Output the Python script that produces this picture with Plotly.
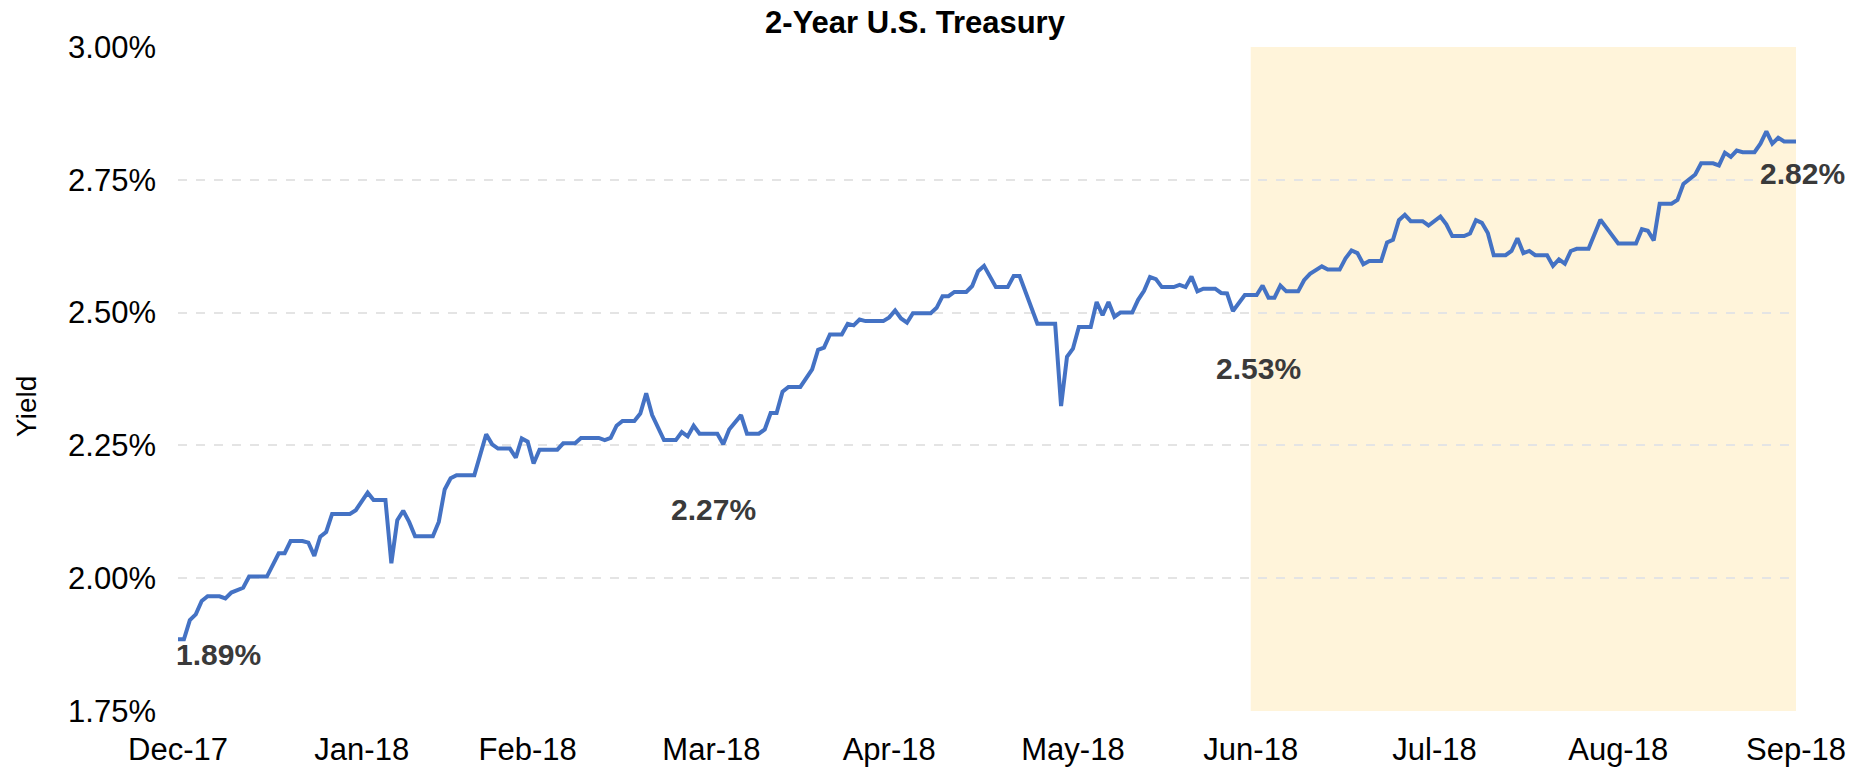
import plotly.graph_objects as go

# ---- data (daily 2-year Treasury yield, %, vertices of the line) ----
DATES = [
    "2017-12-31", "2018-01-01", "2018-01-02", "2018-01-03", "2018-01-04", "2018-01-05", "2018-01-07",
    "2018-01-08", "2018-01-09", "2018-01-11", "2018-01-12", "2018-01-15", "2018-01-17", "2018-01-18",
    "2018-01-19", "2018-01-21", "2018-01-22", "2018-01-23", "2018-01-24", "2018-01-25", "2018-01-26",
    "2018-01-29", "2018-01-30", "2018-02-01", "2018-02-02", "2018-02-04", "2018-02-05", "2018-02-06",
    "2018-02-07", "2018-02-08", "2018-02-09", "2018-02-12", "2018-02-13", "2018-02-14", "2018-02-15",
    "2018-02-16", "2018-02-19", "2018-02-21", "2018-02-22", "2018-02-23", "2018-02-25", "2018-02-26",
    "2018-02-27", "2018-02-28", "2018-03-01", "2018-03-02", "2018-03-05", "2018-03-06", "2018-03-08",
    "2018-03-09", "2018-03-12", "2018-03-13", "2018-03-14", "2018-03-15", "2018-03-16", "2018-03-18",
    "2018-03-19", "2018-03-20", "2018-03-21", "2018-03-22", "2018-03-23", "2018-03-25", "2018-03-26",
    "2018-03-27", "2018-03-28", "2018-03-29", "2018-04-01", "2018-04-02", "2018-04-03", "2018-04-05",
    "2018-04-06", "2018-04-08", "2018-04-09", "2018-04-10", "2018-04-11", "2018-04-12", "2018-04-13",
    "2018-04-15", "2018-04-16", "2018-04-17", "2018-04-18", "2018-04-19", "2018-04-20", "2018-04-22",
    "2018-04-23", "2018-04-24", "2018-04-25", "2018-04-26", "2018-04-29", "2018-04-30", "2018-05-01",
    "2018-05-02", "2018-05-03", "2018-05-04", "2018-05-07", "2018-05-08", "2018-05-09", "2018-05-10",
    "2018-05-11", "2018-05-13", "2018-05-14", "2018-05-15", "2018-05-16", "2018-05-17", "2018-05-18",
    "2018-05-20", "2018-05-21", "2018-05-22", "2018-05-25", "2018-05-28", "2018-05-29", "2018-05-30",
    "2018-05-31", "2018-06-01", "2018-06-03", "2018-06-04", "2018-06-05", "2018-06-06", "2018-06-07",
    "2018-06-08", "2018-06-10", "2018-06-11", "2018-06-12", "2018-06-13", "2018-06-14", "2018-06-15",
    "2018-06-17", "2018-06-18", "2018-06-19", "2018-06-20", "2018-06-21", "2018-06-22", "2018-06-24",
    "2018-06-25", "2018-06-26", "2018-06-27", "2018-06-29", "2018-07-01", "2018-07-02", "2018-07-03",
    "2018-07-04", "2018-07-05", "2018-07-06", "2018-07-08", "2018-07-09", "2018-07-10", "2018-07-12",
    "2018-07-13", "2018-07-15", "2018-07-16", "2018-07-17", "2018-07-18", "2018-07-19", "2018-07-20",
    "2018-07-22", "2018-07-23", "2018-07-24", "2018-07-25", "2018-07-26", "2018-07-27", "2018-07-29",
    "2018-07-30", "2018-08-01", "2018-08-02", "2018-08-03", "2018-08-05", "2018-08-06", "2018-08-07",
    "2018-08-08", "2018-08-09", "2018-08-10", "2018-08-12", "2018-08-13", "2018-08-14", "2018-08-15",
    "2018-08-16", "2018-08-17", "2018-08-19", "2018-08-20", "2018-08-21", "2018-08-22", "2018-08-23",
    "2018-08-24", "2018-08-26", "2018-08-28", "2018-08-31", "2018-09-03", "2018-09-04", "2018-09-05",
    "2018-09-06", "2018-09-07", "2018-09-09", "2018-09-10", "2018-09-11", "2018-09-12", "2018-09-13",
    "2018-09-14", "2018-09-16", "2018-09-17", "2018-09-18", "2018-09-19", "2018-09-20", "2018-09-21",
    "2018-09-23", "2018-09-24", "2018-09-25", "2018-09-26", "2018-09-27", "2018-09-28", "2018-09-30",
]
YIELDS = [
    1.885, 1.885, 1.921, 1.932, 1.957, 1.966, 1.966,
    1.962, 1.973, 1.982, 2.003, 2.003, 2.047, 2.047,
    2.070, 2.070, 2.067, 2.042, 2.078, 2.087, 2.121,
    2.121, 2.128, 2.161, 2.147, 2.147, 2.028, 2.109,
    2.127, 2.106, 2.079, 2.079, 2.106, 2.167, 2.188,
    2.194, 2.194, 2.271, 2.252, 2.244, 2.244, 2.227,
    2.263, 2.257, 2.216, 2.242, 2.242, 2.254, 2.254,
    2.264, 2.264, 2.260, 2.264, 2.287, 2.296, 2.296,
    2.310, 2.348, 2.307, 2.284, 2.260, 2.260, 2.275,
    2.267, 2.287, 2.272, 2.272, 2.252, 2.280, 2.307,
    2.272, 2.272, 2.280, 2.311, 2.311, 2.351, 2.360,
    2.360, 2.376, 2.393, 2.430, 2.434, 2.459, 2.459,
    2.479, 2.476, 2.487, 2.484, 2.484, 2.491, 2.504,
    2.489, 2.481, 2.499, 2.499, 2.509, 2.531, 2.531,
    2.539, 2.539, 2.550, 2.578, 2.588, 2.567, 2.548,
    2.548, 2.569, 2.569, 2.479, 2.479, 2.324, 2.417,
    2.432, 2.473, 2.473, 2.520, 2.495, 2.520, 2.492,
    2.500, 2.500, 2.524, 2.541, 2.567, 2.563, 2.548,
    2.548, 2.552, 2.548, 2.568, 2.540, 2.545, 2.545,
    2.537, 2.536, 2.503, 2.533, 2.533, 2.551, 2.528,
    2.528, 2.551, 2.540, 2.540, 2.561, 2.573, 2.587,
    2.581, 2.581, 2.602, 2.617, 2.612, 2.591, 2.597,
    2.597, 2.632, 2.637, 2.674, 2.684, 2.672, 2.672,
    2.664, 2.681, 2.666, 2.644, 2.644, 2.649, 2.674,
    2.669, 2.650, 2.608, 2.608, 2.616, 2.640, 2.612,
    2.616, 2.608, 2.608, 2.588, 2.600, 2.592, 2.616,
    2.620, 2.620, 2.675, 2.630, 2.630, 2.657, 2.654,
    2.636, 2.705, 2.705, 2.712, 2.742, 2.750, 2.760,
    2.781, 2.781, 2.777, 2.801, 2.793, 2.805, 2.802,
    2.802, 2.818, 2.841, 2.818, 2.829, 2.822, 2.822,
]

TICK_DATES = ["2017-12-31", "2018-01-31", "2018-02-28", "2018-03-31", "2018-04-30",
              "2018-05-31", "2018-06-30", "2018-07-31", "2018-08-31", "2018-09-30"]
TICK_LABELS = ["Dec-17", "Jan-18", "Feb-18", "Mar-18", "Apr-18",
               "May-18", "Jun-18", "Jul-18", "Aug-18", "Sep-18"]
Y_TICKS = [1.75, 2.00, 2.25, 2.50, 2.75, 3.00]
Y_TICK_LABELS = ["1.75%", "2.00%", "2.25%", "2.50%", "2.75%", "3.00%"]
Y_RANGE = [1.75, 3.00]
HIGHLIGHT = ["2018-06-30", "2018-09-30"]
CALLOUT_DATES = ["2017-12-31", "2018-03-31", "2018-06-30", "2018-09-30"]
CALLOUT_VALUES = [1.89, 2.27, 2.53, 2.82]

FONT = "Liberation Sans, Arial, sans-serif"

W, H = 1869, 767
L, R, T, B = 178, 73, 47, 56

fig = go.Figure()
fig.add_trace(go.Scatter(
    x=DATES, y=YIELDS, mode="lines",
    line=dict(color="#4472C4", width=4),
    hoverinfo="skip", showlegend=False,
))

fig.add_shape(type="rect", xref="x", yref="y",
              x0=HIGHLIGHT[0], x1=HIGHLIGHT[1], y0=Y_RANGE[0], y1=Y_RANGE[1],
              fillcolor="#FFF4DA", line=dict(width=0), layer="below")

# callout placement (pixel offsets from the point on the line)
offsets = [dict(xanchor="left", xshift=-4, yshift=-18),
           dict(xanchor="center", xshift=2, yshift=-75),
           dict(xanchor="center", xshift=8, yshift=-72),
           dict(xanchor="center", xshift=6, yshift=-31)]
for d, v, o in zip(CALLOUT_DATES, CALLOUT_VALUES, offsets):
    fig.add_annotation(x=d, y=v, xref="x", yref="y", text=f"<b>{v:.2f}%</b>",
                       showarrow=False, yanchor="middle",
                       font=dict(family=FONT, size=30, color="#3A3A3A"), **o)

# y-axis title
fig.add_annotation(text="Yield", textangle=-90, showarrow=False,
                   xref="paper", yref="paper", x=(27 - L) / (W - L - R), y=0.458,
                   xanchor="center", yanchor="middle",
                   font=dict(family=FONT, size=28, color="#000000"))

fig.update_layout(
    width=W, height=H,
    margin=dict(l=L, r=R, t=T, b=B),
    paper_bgcolor="white", plot_bgcolor="white",
    font=dict(family=FONT, color="#000000"),
    title=dict(text="<b>2-Year U.S. Treasury</b>", xref="container", x=915 / W,
               xanchor="center", y=1 - 22 / H, yanchor="middle",
               font=dict(family=FONT, size=31, color="#000000")),
    showlegend=False,
)
fig.update_xaxes(
    type="date", range=[TICK_DATES[0], TICK_DATES[-1]],
    tickmode="array", tickvals=TICK_DATES, ticktext=TICK_LABELS,
    showgrid=False, zeroline=False, showline=False, ticks="",
    tickfont=dict(family=FONT, size=31, color="#000000"),
    ticklabelstandoff=17, automargin=False,
)
fig.update_yaxes(
    range=Y_RANGE, tickmode="array", tickvals=Y_TICKS, ticktext=Y_TICK_LABELS,
    showgrid=True, gridcolor="#E4E4E4", gridwidth=1.5, griddash="dash",
    zeroline=False, showline=False, ticks="",
    tickfont=dict(family=FONT, size=31, color="#000000"),
    ticklabelstandoff=21, automargin=False,
)

# remove the browser's default 8px page margin so the figure sits at the window origin
fig.write_html("out.html", config={"displayModeBar": False},
               post_script="document.body.style.margin='0';")
